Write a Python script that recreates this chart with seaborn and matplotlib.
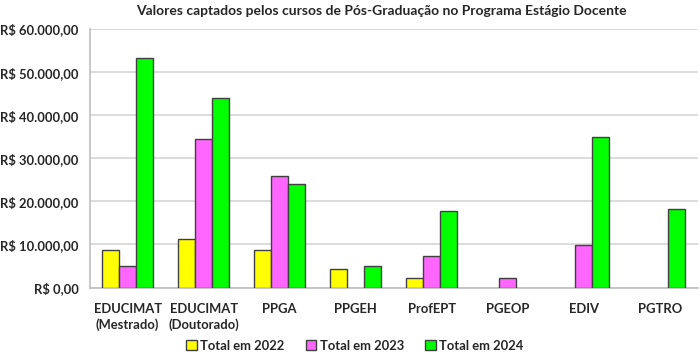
import numpy as np
import pandas as pd
import matplotlib
matplotlib.use("Agg")
import matplotlib.pyplot as plt
import seaborn as sns
from matplotlib.ticker import FuncFormatter, FixedLocator

programas = ["EDUCIMAT\n(Mestrado)", "EDUCIMAT\n(Doutorado)", "PPGA", "PPGEH",
             "ProfEPT", "PGEOP", "EDIV", "PGTRO"]
total_2022 = [8800, 11300, 8800, 4400, 2200, np.nan, np.nan, np.nan]
total_2023 = [5000, 34600, 26000, np.nan, 7400, 2250, 9900, np.nan]
total_2024 = [53300, 43900, 24000, 5000, 17700, np.nan, 35000, 18300]
series = ["Total em 2022", "Total em 2023", "Total em 2024"]
cores = ["#FFFF00", "#FF66FF", "#00FF00"]

rows = []
for nome, vals in zip(series, [total_2022, total_2023, total_2024]):
    for p, v in zip(programas, vals):
        rows.append({"programa": p, "serie": nome, "valor": v})
df = pd.DataFrame(rows).dropna()

sns.set_theme(style="white")
plt.rcParams["font.family"] = ["Lato", "DejaVu Sans"]

fig, ax = plt.subplots(figsize=(7, 3.55), dpi=100)
fig.subplots_adjust(left=0.128, right=0.997, top=0.918, bottom=0.19)

sns.barplot(data=df, x="programa", y="valor", hue="serie", order=programas,
            hue_order=series, palette=cores, width=0.67, edgecolor="#404040",
            linewidth=1.0, saturation=1, ax=ax, zorder=3)

ax.set_ylim(0, 60000)
ax.set_xlim(-0.5, len(programas) - 0.5)
ax.yaxis.set_major_locator(FixedLocator(np.arange(0, 60001, 10000)))


def reais(v, pos):
    s = f"{v:,.2f}".replace(",", "X").replace(".", ",").replace("X", ".")
    return f"R$ {s}"


ax.yaxis.set_major_formatter(FuncFormatter(reais))
ax.grid(axis="y", color="#d9d9d9", linewidth=1.3, zorder=0)
ax.set_axisbelow(True)
for s in ["top", "right"]:
    ax.spines[s].set_visible(False)
for s in ["left", "bottom"]:
    ax.spines[s].set_color("#bfbfbf")
    ax.spines[s].set_linewidth(1.2)

ax.tick_params(axis="y", labelsize=9.4, length=4, color="#bfbfbf", pad=4)
ax.tick_params(axis="x", labelsize=9.4, length=0, pad=11)
ax.set_xticks(np.arange(-0.5, len(programas), 1), minor=True)
ax.tick_params(axis="x", which="minor", length=4, color="#bfbfbf", width=1.2)
for lbl in ax.get_yticklabels() + ax.get_xticklabels():
    lbl.set_fontweight("bold")
    lbl.set_linespacing(1.35)

ax.set_xlabel("")
ax.set_ylabel("")
ax.set_title("Valores captados pelos cursos de Pós-Graduação no Programa Estágio Docente",
             fontsize=10, fontweight="bold", pad=10, x=0.48)

handles, labels = ax.get_legend_handles_labels()
ax.get_legend().remove()
fig.legend(handles, labels, loc="center", bbox_to_anchor=(0.507, 0.026), ncol=3,
           frameon=False, prop={"weight": "bold", "size": 9.4}, handlelength=0.8,
           handleheight=0.8, handletextpad=0.3, columnspacing=1.6)

fig.savefig("out.png", dpi=100)
